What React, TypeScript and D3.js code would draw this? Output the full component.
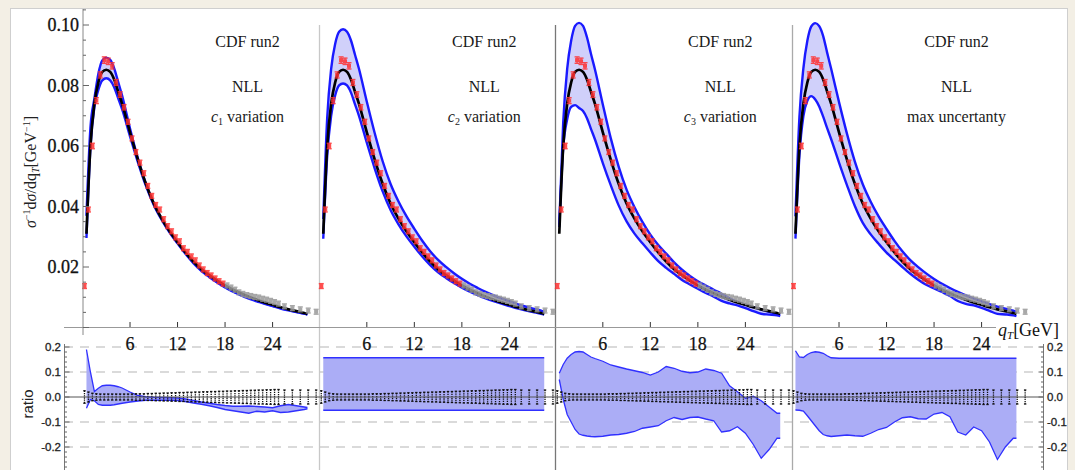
import React from "react";
import * as d3 from "d3";

// theory grid (qT in GeV) and central NLL curve
const qTheory = [0.5, 1, 1.5, 2, 2.5, 3, 3.5, 4, 4.5, 5, 6, 7, 8, 9, 10, 11, 12, 13, 14, 15, 16, 17, 18, 19, 20, 21, 22, 23, 24, 25, 26, 27, 28, 28.4];
const central = [0.031, 0.06, 0.074, 0.081, 0.0845, 0.0852, 0.0845, 0.082, 0.078, 0.074, 0.0645, 0.0555, 0.0475, 0.041, 0.036, 0.0318, 0.0282, 0.0248, 0.0218, 0.0193, 0.0173, 0.0155, 0.0139, 0.0125, 0.0113, 0.0102, 0.0092, 0.0083, 0.0075, 0.0067, 0.006, 0.0054, 0.0048, 0.0045];

// relative band edges (ratio panel), one pair per panel
const c1Up = [0.19, 0.1, 0.022, 0.035, 0.045, 0.047, 0.047, 0.045, 0.041, 0.036, 0.02, 0.006, 0.001, -0.001, -0.002, -0.003, -0.004, -0.008, -0.014, -0.02, -0.025, -0.03, -0.034, -0.037, -0.037, -0.036, -0.038, -0.04, -0.043, -0.035, -0.03, -0.035, -0.04, -0.042];
const c1Lo = [-0.045, -0.01, -0.015, -0.03, -0.033, -0.033, -0.033, -0.031, -0.028, -0.025, -0.02, -0.016, -0.013, -0.013, -0.013, -0.013, -0.014, -0.018, -0.024, -0.029, -0.035, -0.042, -0.05, -0.055, -0.06, -0.065, -0.057, -0.06, -0.055, -0.062, -0.06, -0.055, -0.05, -0.047];
const c2Up = 0.157;
const c2Lo = -0.053;
const c3Up = [0.095, 0.13, 0.155, 0.17, 0.18, 0.182, 0.18, 0.17, 0.16, 0.154, 0.143, 0.128, 0.12, 0.112, 0.105, 0.098, 0.088, 0.1, 0.122, 0.115, 0.103, 0.097, 0.1, 0.112, 0.106, 0.095, 0.045, 0.021, -0.005, 0.003, -0.015, -0.04, -0.065, -0.065];
const c3Lo = [0.07, -0.01, -0.07, -0.1, -0.13, -0.148, -0.153, -0.156, -0.158, -0.159, -0.157, -0.152, -0.15, -0.145, -0.138, -0.125, -0.12, -0.115, -0.095, -0.082, -0.09, -0.082, -0.08, -0.088, -0.095, -0.14, -0.135, -0.119, -0.145, -0.19, -0.245, -0.21, -0.165, -0.165];
const c4Up = [0.185, 0.16, 0.158, 0.17, 0.178, 0.181, 0.179, 0.175, 0.165, 0.157, 0.155, 0.155, 0.155, 0.155, 0.155, 0.155, 0.155, 0.155, 0.155, 0.155, 0.155, 0.155, 0.155, 0.155, 0.155, 0.155, 0.155, 0.155, 0.155, 0.155, 0.155, 0.155, 0.155, 0.155];
const c4Lo = [-0.052, -0.053, -0.056, -0.075, -0.095, -0.115, -0.135, -0.15, -0.155, -0.158, -0.155, -0.152, -0.155, -0.157, -0.145, -0.13, -0.122, -0.1, -0.083, -0.079, -0.087, -0.088, -0.068, -0.062, -0.079, -0.14, -0.152, -0.12, -0.135, -0.18, -0.25, -0.2, -0.165, -0.165];

// CDF run2 data
const qData = [0.25, 0.75, 1.25, 1.75, 2.25, 2.75, 3.25, 3.75, 4.25, 4.75, 5.25, 5.75, 6.25, 6.75, 7.25, 7.75, 8.25, 8.75, 9.25, 9.75, 10.25, 10.75, 11.25, 11.75, 12.25, 12.75, 13.25, 13.75, 14.25, 14.75, 15.25, 15.75, 16.25, 16.75, 17.25, 17.75, 18.25, 18.75, 19.25, 19.75, 20.25, 20.75, 21.25, 21.75, 22.25, 22.75, 23.25, 23.75, 24.25, 24.75, 25.5, 26.5, 27.5, 28.5, 29.5];
const dataVal = [0.0137, 0.039, 0.06, 0.075, 0.0835, 0.0884, 0.088, 0.0865, 0.081, 0.077, 0.0728, 0.068, 0.0625, 0.058, 0.0545, 0.051, 0.0468, 0.0435, 0.0405, 0.039, 0.0358, 0.0335, 0.0318, 0.0298, 0.0285, 0.0262, 0.025, 0.0235, 0.0222, 0.0205, 0.0192, 0.018, 0.0172, 0.0162, 0.0153, 0.0145, 0.0139, 0.0132, 0.0125, 0.0116, 0.0111, 0.0107, 0.0104, 0.0101, 0.0099, 0.0095, 0.0092, 0.0088, 0.0084, 0.0079, 0.007, 0.0064, 0.006, 0.0056, 0.0052];
const dataRelErr = [0.025, 0.02, 0.015, 0.013, 0.012, 0.012, 0.012, 0.012, 0.012, 0.012, 0.012, 0.012, 0.012, 0.013, 0.013, 0.013, 0.014, 0.014, 0.015, 0.015, 0.016, 0.016, 0.017, 0.017, 0.018, 0.018, 0.019, 0.019, 0.02, 0.02, 0.021, 0.021, 0.022, 0.022, 0.023, 0.023, 0.024, 0.024, 0.025, 0.025, 0.026, 0.026, 0.027, 0.027, 0.028, 0.028, 0.029, 0.029, 0.03, 0.03, 0.028, 0.028, 0.028, 0.028, 0.028];
const fitMax = 18;

const xTicks = [6, 12, 18, 24];
const yTicks = [0.02, 0.04, 0.06, 0.08, 0.1];
const ratioTicks = [0.2, 0.1, 0, -0.1, -0.2];
const panelNotes = ["1", "2", "3", null];

const W = 1075;
const H = 470;
const panelX0 = [82.5, 319.3, 555.3, 791.5];
const panelW = 237.6;
const serif = "'Liberation Serif', 'DejaVu Serif', serif";
const sans = "'Liberation Sans', Arial, sans-serif";

const yMain = d3.scaleLinear().domain([0, 0.1]).range([327.5, 25]);
const yRatio = d3.scaleLinear().domain([-0.2, 0.2]).range([447, 347]);

const bandUp = [c1Up, qTheory.map(() => c2Up), c3Up, c4Up];
const bandLo = [c1Lo, qTheory.map(() => c2Lo), c3Lo, c4Lo];

function Panel({ i }: { i: number }) {
  const x = d3.scaleLinear().domain([0, 30]).range([panelX0[i], panelX0[i] + panelW]);
  const up = bandUp[i];
  const lo = bandLo[i];
  const idx = d3.range(qTheory.length);

  const mainArea = d3.area<number>()
    .x((k) => x(qTheory[k]))
    .y0((k) => yMain(central[k] * (1 + lo[k])))
    .y1((k) => yMain(central[k] * (1 + up[k])))
    .curve(d3.curveMonotoneX);
  const mainLine = (arr: number[], rel: number[] | null) =>
    d3.line<number>()
      .x((k) => x(qTheory[k]))
      .y((k) => yMain(arr[k] * (rel ? 1 + rel[k] : 1)))
      .curve(d3.curveMonotoneX)(idx) || "";

  const ratioArea = d3.area<number>()
    .x((k) => x(qTheory[k]))
    .y0((k) => yRatio(lo[k]))
    .y1((k) => yRatio(up[k]));
  const ratioLine = (rel: number[]) =>
    d3.line<number>().x((k) => x(qTheory[k])).y((k) => yRatio(rel[k]))(idx) || "";

  const cx = panelX0[i] + 165;
  const note = panelNotes[i];

  return (
    <g>
      {/* main panel band and curve */}
      <path d={mainArea(idx) || ""} fill="#d0d0fa" />
      <path d={mainLine(central, up)} fill="none" stroke="#1a1aff" strokeWidth={2.4} />
      <path d={mainLine(central, lo)} fill="none" stroke="#1a1aff" strokeWidth={2.4} />
      <path d={mainLine(central, null)} fill="none" stroke="#000" strokeWidth={2.7} />
      {qData.map((q, k) => {
        const v = dataVal[k];
        const e = Math.max(v * dataRelErr[k], 0.0008);
        const col = q < fitMax ? "#ff3030" : "#999";
        const px = x(q);
        return (
          <g key={k} stroke={col} strokeWidth={1.4} opacity={0.85}>
            <line x1={px} x2={px} y1={yMain(v + e)} y2={yMain(v - e)} />
            <line x1={px - 2.5} x2={px + 2.5} y1={yMain(v + e)} y2={yMain(v + e)} />
            <line x1={px - 2.5} x2={px + 2.5} y1={yMain(v - e)} y2={yMain(v - e)} />
            <rect x={px - 2} y={yMain(v) - 2} width={4} height={4} fill={col} stroke="none" />
          </g>
        );
      })}

      {/* labels */}
      <g fontFamily={serif} fontSize={16} fill="#1a1a1a" textAnchor="middle">
        <text x={cx} y={47}>CDF run2</text>
        <text x={cx} y={92}>NLL</text>
        {note ? (
          <text x={cx} y={122}>
            <tspan fontStyle="italic">c</tspan>
            <tspan fontSize={10} dy={3}>{note}</tspan>
            <tspan dy={-3}> variation</tspan>
          </text>
        ) : (
          <text x={cx} y={122}>max uncertanty</text>
        )}
      </g>

      {/* x ticks of main plot */}
      {xTicks.map((t) => (
        <g key={t}>
          <line x1={x(t)} x2={x(t)} y1={327.5} y2={322} stroke="#333" strokeWidth={1} />
          <text x={x(t)} y={350} textAnchor="middle" fontFamily={serif} fontSize={18} fill="#111" stroke="#111" strokeWidth={0.25}>{t}</text>
        </g>
      ))}

      {/* ratio panel */}
      <path d={ratioArea(idx) || ""} fill="#abadf6" />
      <path d={ratioLine(up)} fill="none" stroke="#3030ff" strokeWidth={1.3} />
      <path d={ratioLine(lo)} fill="none" stroke="#3030ff" strokeWidth={1.3} />
      {qData.map((q, k) => {
        const px = x(q);
        const e = dataRelErr[k];
        return (
          <g key={k} stroke="#111" strokeWidth={1.3}>
            <line x1={px} x2={px} y1={yRatio(e)} y2={yRatio(-e)} strokeDasharray="1.3 0.9" />
            <line x1={px - 1.2} x2={px + 1.2} y1={yRatio(e)} y2={yRatio(e)} />
            <line x1={px - 1.2} x2={px + 1.2} y1={yRatio(-e)} y2={yRatio(-e)} />
          </g>
        );
      })}
    </g>
  );
}

export default function App() {
  const minor = d3.range(0, 0.1051, 0.005);
  const ratioMinor = d3.range(-0.28, 0.2001, 0.02);
  const sepColors = ["#c8c8c8", "#777", "#aaa"];

  return (
    <svg width={W} height={H} style={{ position: "absolute", left: 0, top: 0 }}>
      <rect x={0} y={0} width={W} height={H} fill="#f3efe5" />
      <rect x={10.5} y={8.5} width={1057} height={470} fill="#fff" stroke="#cfcfcf" />

      {/* ratio grid */}
      {[0.2, 0.1, -0.1, -0.2].map((t) => (
        <line key={t} x1={64} x2={1043} y1={yRatio(t)} y2={yRatio(t)} stroke="#b5b5b5" strokeWidth={1.2} strokeDasharray="9 7" />
      ))}

      {/* panel separators */}
      {[1, 2, 3].map((i) => (
        <line key={i} x1={Math.round(panelX0[i]) + 0.5} x2={Math.round(panelX0[i]) + 0.5} y1={25} y2={H} stroke={sepColors[i - 1]} strokeWidth={1.3} />
      ))}

      {[0, 1, 2, 3].map((i) => (
        <Panel key={i} i={i} />
      ))}

      <line x1={64} x2={1043} y1={yRatio(0)} y2={yRatio(0)} stroke="#555" strokeWidth={1} />

      {/* main axes */}
      <line x1={64} x2={996} y1={327.5} y2={327.5} stroke="#999" strokeWidth={1} />
      <line x1={83} x2={83} y1={9} y2={335} stroke="#888" strokeWidth={1} />
      {minor.map((t, k) => {
        const major = k % 4 === 0;
        return <line key={k} x1={83} x2={major ? 89 : 86} y1={yMain(t)} y2={yMain(t)} stroke="#666" strokeWidth={1} />;
      })}
      {yTicks.map((t) => (
        <text key={t} x={79} y={yMain(t) + 6} textAnchor="end" fontFamily={serif} fontSize={18} fill="#111" stroke="#111" strokeWidth={0.3}>
          {t.toFixed(2)}
        </text>
      ))}
      <text transform="translate(36,172) rotate(-90)" textAnchor="middle" fontFamily={serif} fontSize={16} fill="#222">
        <tspan fontStyle="italic">σ</tspan>
        <tspan fontSize={10} dy={-6}>−1</tspan>
        <tspan dy={6}>d</tspan>
        <tspan fontStyle="italic">σ</tspan>
        <tspan>/dq</tspan>
        <tspan fontSize={10} dy={3} fontStyle="italic">T</tspan>
        <tspan dy={-3}>[GeV</tspan>
        <tspan fontSize={10} dy={-6}>−1</tspan>
        <tspan dy={6}>]</tspan>
      </text>
      <text x={998} y={336} fontFamily={serif} fontSize={18} fill="#111">
        <tspan fontStyle="italic">q</tspan>
        <tspan fontSize={11} dy={3} fontStyle="italic">T</tspan>
        <tspan dy={-3}>[GeV]</tspan>
      </text>

      {/* ratio axes */}
      <line x1={64.5} x2={64.5} y1={344} y2={H} stroke="#777" strokeWidth={1} />
      <line x1={1043.5} x2={1043.5} y1={344} y2={H} stroke="#777" strokeWidth={1} />
      {ratioMinor.map((t, k) => {
        const major = Math.abs(Math.round(t * 100) % 10) === 0;
        const len = major ? 5 : 2.5;
        return (
          <g key={k} stroke="#666" strokeWidth={1}>
            <line x1={64.5} x2={64.5 + len} y1={yRatio(t)} y2={yRatio(t)} />
            <line x1={1043.5} x2={1043.5 - len} y1={yRatio(t)} y2={yRatio(t)} />
          </g>
        );
      })}
      {ratioTicks.map((t) => (
        <g key={t} fontFamily={sans} fontSize={11.5} fill="#222" stroke="#222" strokeWidth={0.3}>
          <text x={61} y={yRatio(t) + 4} textAnchor="end">{t.toFixed(1)}</text>
          <text x={1047} y={yRatio(t) + 4} textAnchor="start">{t.toFixed(1)}</text>
        </g>
      ))}
      <text transform="translate(33,404) rotate(-90)" textAnchor="middle" fontFamily={sans} fontSize={15} fill="#222">ratio</text>
    </svg>
  );
}
